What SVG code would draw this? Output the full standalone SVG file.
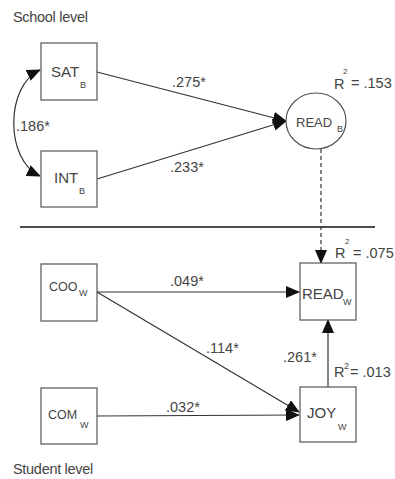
<svg xmlns="http://www.w3.org/2000/svg" width="395" height="479" viewBox="0 0 395 479">
<defs>
<marker id="ah" markerUnits="userSpaceOnUse" markerWidth="14" markerHeight="12" refX="13" refY="6" orient="auto-start-reverse" viewBox="0 0 14 12">
<path d="M0,0 L14,6 L0,12 Z" fill="#111"/>
</marker>
<style>
text{font-family:"Liberation Sans",Arial,sans-serif;fill:#444;}
.lbl{font-size:14.5px;}
.big{font-size:15px;}
.sub{font-size:9px;}
.box{fill:#fff;stroke:#555;stroke-width:1.2;}
.ln{stroke:#333;stroke-width:1.2;fill:none;}
</style>
</defs>
<rect width="395" height="479" fill="#fff"/>
<text x="13" y="22" class="lbl" style="letter-spacing:-0.3px">School level</text>
<text x="13" y="474" class="lbl" style="letter-spacing:-0.3px">Student level</text>
<line x1="20" y1="227" x2="375" y2="227" stroke="#111" stroke-width="1.5"/>
<g id="connectors">
<path class="ln" d="M40,70 C5,86 5,160 40,176" marker-start="url(#ah)" marker-end="url(#ah)"/>
<line class="ln" x1="97" y1="72" x2="286" y2="121" marker-end="url(#ah)"/>
<line class="ln" x1="97" y1="179" x2="286" y2="121" marker-end="url(#ah)"/>
<line class="ln" x1="321" y1="149" x2="321" y2="263" stroke-dasharray="4,3" marker-end="url(#ah)"/>
<line class="ln" x1="97" y1="292" x2="299" y2="292" marker-end="url(#ah)"/>
<line class="ln" x1="97" y1="292" x2="299" y2="412" marker-end="url(#ah)"/>
<line class="ln" x1="97" y1="416" x2="299" y2="415" marker-end="url(#ah)"/>
<line class="ln" x1="328" y1="387" x2="328" y2="320" marker-end="url(#ah)"/>
<text x="172" y="87" class="lbl">.275*</text>
<text x="170" y="172" class="lbl">.233*</text>
<text x="16" y="131" class="lbl">.186*</text>
<text x="170" y="286" class="lbl">.049*</text>
<text x="206" y="353" class="lbl">.114*</text>
<text x="283" y="362" class="lbl">.261*</text>
<text x="166" y="412" class="lbl">.032*</text>
</g>
<g id="SAT">
<rect class="box" x="41" y="43" width="56" height="57"/>
<text x="51" y="77" class="big">SAT</text>
<text x="80" y="88" class="sub">B</text>
</g>
<g id="INT">
<rect class="box" x="41" y="151" width="56" height="56"/>
<text x="54" y="183" class="big">INT</text>
<text x="79" y="194" class="sub">B</text>
</g>
<g id="READB">
<ellipse cx="316" cy="121" rx="30" ry="28" fill="#fff" stroke="#555" stroke-width="1.2"/>
<text x="296" y="127" style="font-size:13px">READ</text>
<text x="337" y="132" class="sub">B</text>
<text x="334" y="89" class="lbl">R</text>
<text x="343" y="74" class="sub" style="font-size:8px">2</text>
<text x="351" y="88" class="lbl">= .153</text>
</g>
<g id="READW">
<rect class="box" x="300" y="263" width="56" height="57"/>
<text x="302" y="299" style="font-size:15px">READ</text>
<text x="343" y="305" class="sub">W</text>
<text x="335" y="258" class="lbl">R</text>
<text x="345" y="244" class="sub" style="font-size:8px">2</text>
<text x="353" y="258" class="lbl">= .075</text>
</g>
<g id="COO">
<rect class="box" x="41" y="264" width="56" height="57"/>
<text x="49" y="291" style="font-size:12.5px">COO</text>
<text x="79" y="296" class="sub">W</text>
</g>
<g id="COM">
<rect class="box" x="41" y="388" width="56" height="56"/>
<text x="48" y="419" style="font-size:12.5px">COM</text>
<text x="80" y="428" class="sub">W</text>
</g>
<g id="JOY">
<rect class="box" x="300" y="387" width="56" height="55"/>
<text x="307" y="418" class="big">JOY</text>
<text x="338" y="430" class="sub">W</text>
<text x="334" y="377" class="lbl">R</text>
<text x="344" y="369" class="sub">2</text>
<text x="350" y="377" class="lbl">= .013</text>
</g>
</svg>
